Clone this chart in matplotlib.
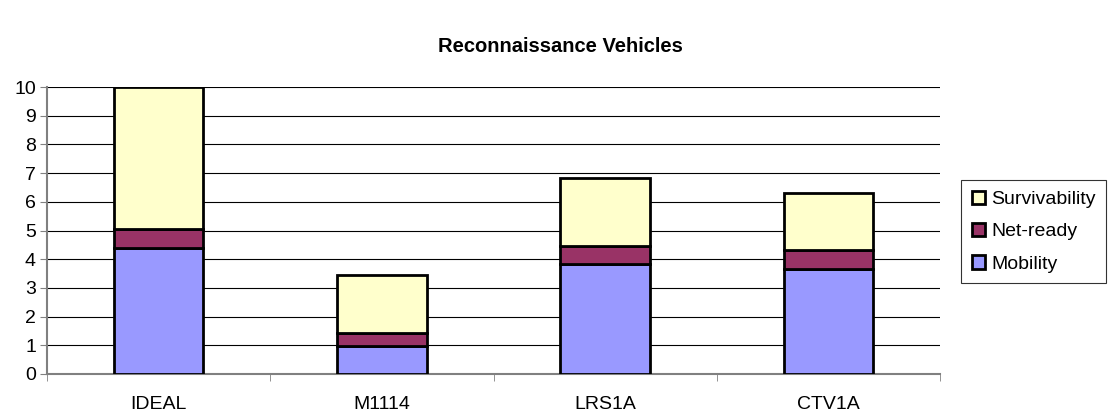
import matplotlib.pyplot as plt
import numpy as np

plt.rcParams['font.family'] = ['Liberation Sans', 'DejaVu Sans']

categories = ['IDEAL', 'M1114', 'LRS1A', 'CTV1A']
mobility = [4.4, 0.97, 3.83, 3.66]
net_ready = [0.65, 0.45, 0.63, 0.66]
survivability = [4.95, 2.02, 2.37, 1.99]

fig = plt.figure(figsize=(11.08, 4.16), dpi=100)
ax = fig.add_axes([47 / 1108, 1 - 374 / 416, 893 / 1108, 287 / 416])

x = np.arange(len(categories))
bottom2 = np.array(mobility) + np.array(net_ready)
ax.bar(x, mobility, width=0.4, color='#9999ff', edgecolor='black', linewidth=2, label='Mobility', zorder=3)
ax.bar(x, net_ready, width=0.4, bottom=mobility, color='#993366', edgecolor='black', linewidth=2, label='Net-ready', zorder=3)
ax.bar(x, survivability, width=0.4, bottom=bottom2, color='#ffffcc', edgecolor='black', linewidth=2, label='Survivability', zorder=3)

ax.set_xlim(-0.5, len(categories) - 0.5)
ax.set_ylim(0, 10)
ax.set_yticks(range(0, 11))
ax.yaxis.grid(True, color='black', linewidth=0.8, zorder=0)
ax.set_xticks(x)
ax.set_xticklabels(categories)
ax.set_xticks(np.arange(-0.5, len(categories)), minor=True)
ax.tick_params(axis='x', which='major', length=0, labelsize=14, pad=16)
ax.tick_params(axis='x', which='minor', length=5, color='#808080')
ax.tick_params(axis='y', length=5, color='#808080', labelsize=14, pad=3)

for s in ['top', 'right']:
    ax.spines[s].set_visible(False)
ax.spines['left'].set_color('#808080')
ax.spines['bottom'].set_color('#808080')
ax.spines['left'].set_linewidth(1.5)
ax.spines['bottom'].set_linewidth(1.5)

fig.text(560 / 1108, 1 - 46 / 416, 'Reconnaissance Vehicles', ha='center', va='center', fontsize=14.5, fontweight='bold')

handles, labels = ax.get_legend_handles_labels()
leg = fig.legend(handles[::-1], labels[::-1], loc='upper left',
                 bbox_to_anchor=(961 / 1108, 1 - 180 / 416), fontsize=14,
                 frameon=True, fancybox=False, edgecolor='black',
                 handlelength=0.7, handleheight=0.7, handletextpad=0.3,
                 labelspacing=0.75, borderpad=0.55, borderaxespad=0)
leg.get_frame().set_linewidth(0.8)

plt.savefig('out.png', dpi=100)
